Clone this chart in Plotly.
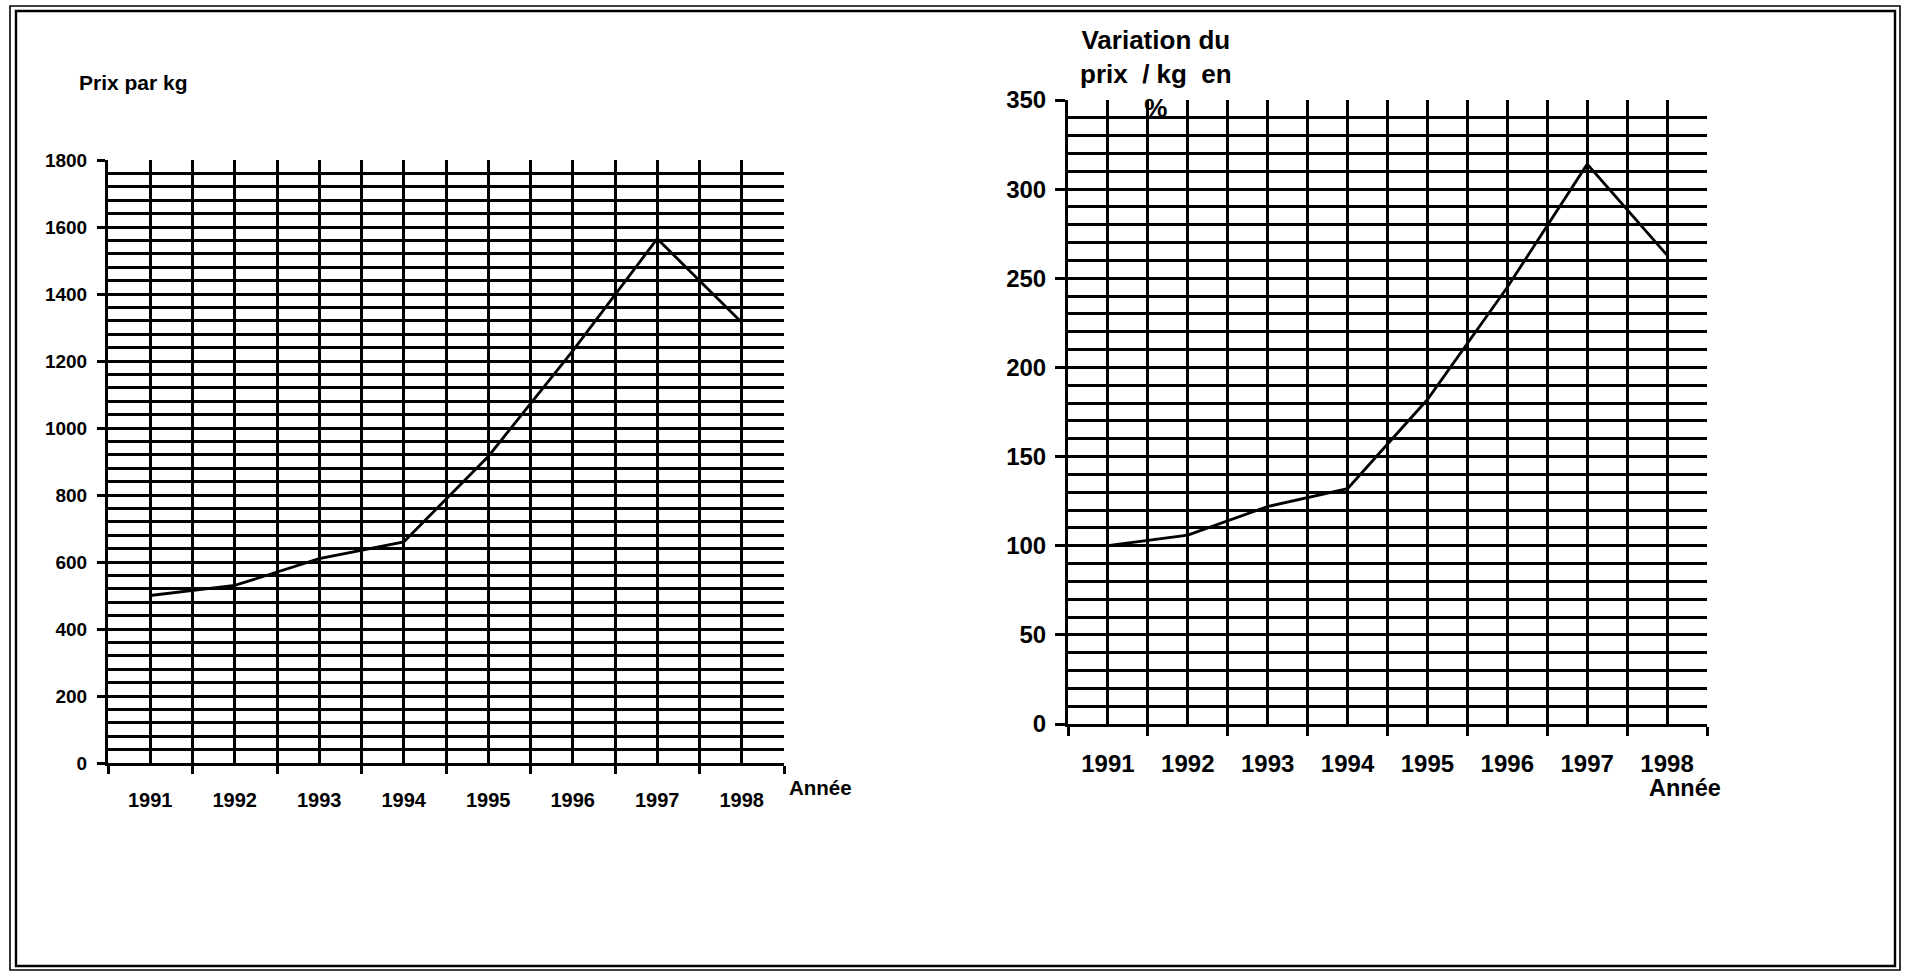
import plotly.graph_objects as go

# ---------------- data ----------------
years = [1991, 1992, 1993, 1994, 1995, 1996, 1997, 1998]
year_labels = ["1991", "1992", "1993", "1994", "1995", "1996", "1997", "1998"]
prix_kg = [500, 530, 610, 660, 915, 1230, 1565, 1315]
variation_pct = [100, 106, 122, 132, 182, 245, 314, 263]

left_y_ticks = [0, 200, 400, 600, 800, 1000, 1200, 1400, 1600, 1800]
right_y_ticks = [0, 50, 100, 150, 200, 250, 300, 350]

W, H = 1905, 972
FONT = "Liberation Sans, Arial, sans-serif"
BLACK = "#000000"
GW = 2.8

boundaries = [y - 0.5 for y in years] + [years[-1] + 0.5]
left_minor = [v for v in range(40, 1800, 40) if v % 200 != 0]
right_minor = [v for v in range(10, 350, 10) if v % 50 != 0]


def px_x(p):
    return p / W


def px_y(p):
    return 1 - p / H


fig = go.Figure()

fig.add_trace(go.Scatter(x=years, y=prix_kg, mode="lines",
                         line=dict(color=BLACK, width=2.8),
                         xaxis="x", yaxis="y", showlegend=False))
fig.add_trace(go.Scatter(x=years, y=variation_pct, mode="lines",
                         line=dict(color=BLACK, width=2.8),
                         xaxis="x2", yaxis="y2", showlegend=False))


def xaxis_cfg(domain, anchor, size, ticklen, standoff):
    return dict(
        domain=domain, anchor=anchor,
        range=[years[0] - 0.5, years[-1] + 0.5],
        tickmode="array", tickvals=years, ticktext=year_labels,
        ticks="", showgrid=True, gridcolor=BLACK, gridwidth=GW,
        showline=True, linecolor=BLACK, linewidth=3,
        zeroline=False, automargin=False,
        tickfont=dict(family=FONT, size=size, color=BLACK, weight="bold"),
        ticklabelstandoff=standoff,
        minor=dict(tickmode="array", tickvals=boundaries, ticks="outside",
                   ticklen=ticklen, tickwidth=GW, tickcolor=BLACK,
                   showgrid=True, gridcolor=BLACK, gridwidth=GW),
        fixedrange=True,
    )


def yaxis_cfg(domain, anchor, rng, ticks, minor, size, ticklen, standoff):
    return dict(
        domain=domain, anchor=anchor, range=rng,
        tickmode="array", tickvals=ticks,
        ticks="outside", ticklen=ticklen, tickwidth=GW, tickcolor=BLACK,
        showgrid=True, gridcolor=BLACK, gridwidth=GW,
        showline=True, linecolor=BLACK, linewidth=3,
        zeroline=False, automargin=False,
        tickfont=dict(family=FONT, size=size, color=BLACK, weight="bold"),
        ticklabelstandoff=standoff,
        minor=dict(tickmode="array", tickvals=minor, ticks="",
                   showgrid=True, gridcolor=BLACK, gridwidth=GW),
        fixedrange=True,
    )


fig.update_layout(
    width=W, height=H,
    margin=dict(l=0, r=0, t=0, b=0),
    paper_bgcolor="white", plot_bgcolor="white",
    template="none",
    font=dict(family=FONT, color=BLACK),
    xaxis=xaxis_cfg([px_x(108), px_x(784)], "y", 20, 8, 17),
    yaxis=yaxis_cfg([px_y(763), px_y(160)], "x", [0, 1800], left_y_ticks,
                    left_minor, 19, 8, 6),
    xaxis2=xaxis_cfg([px_x(1068), px_x(1707)], "y2", 24, 9, 16),
    yaxis2=yaxis_cfg([px_y(724), px_y(100)], "x2", [0, 350], right_y_ticks,
                     right_minor, 24, 10, 4),
)

annots = [
    dict(text="Prix par kg", x=px_x(77), y=px_y(82), xanchor="left",
         yanchor="middle", font=dict(size=21)),
    dict(text="Année", x=px_x(787), y=px_y(787), xanchor="left",
         yanchor="middle", font=dict(size=20.5)),
    dict(text="Variation du<br>prix  / kg  en<br>%", x=px_x(1156),
         y=px_y(74), xanchor="center", yanchor="middle", align="center",
         font=dict(size=26)),
    dict(text="Année", x=px_x(1647), y=px_y(788), xanchor="left",
         yanchor="middle", font=dict(size=23.5)),
]
for a in annots:
    a.update(xref="paper", yref="paper", showarrow=False)
    a["font"].update(family=FONT, color=BLACK, weight="bold")
fig.update_layout(annotations=annots)

# double frame around the page
shapes = [
    dict(type="rect", x0=px_x(10), x1=px_x(1900), y0=px_y(970), y1=px_y(6),
         line=dict(color=BLACK, width=1.6)),
    dict(type="rect", x0=px_x(16), x1=px_x(1895), y0=px_y(966), y1=px_y(11),
         line=dict(color=BLACK, width=2.4)),
]
for s in shapes:
    s.update(xref="paper", yref="paper", layer="above")
fig.update_layout(shapes=shapes)

fig.write_html(
    "out.html",
    config={"displayModeBar": False},
    post_script="document.body.style.margin='0';"
                "document.body.style.overflow='hidden';",
)
